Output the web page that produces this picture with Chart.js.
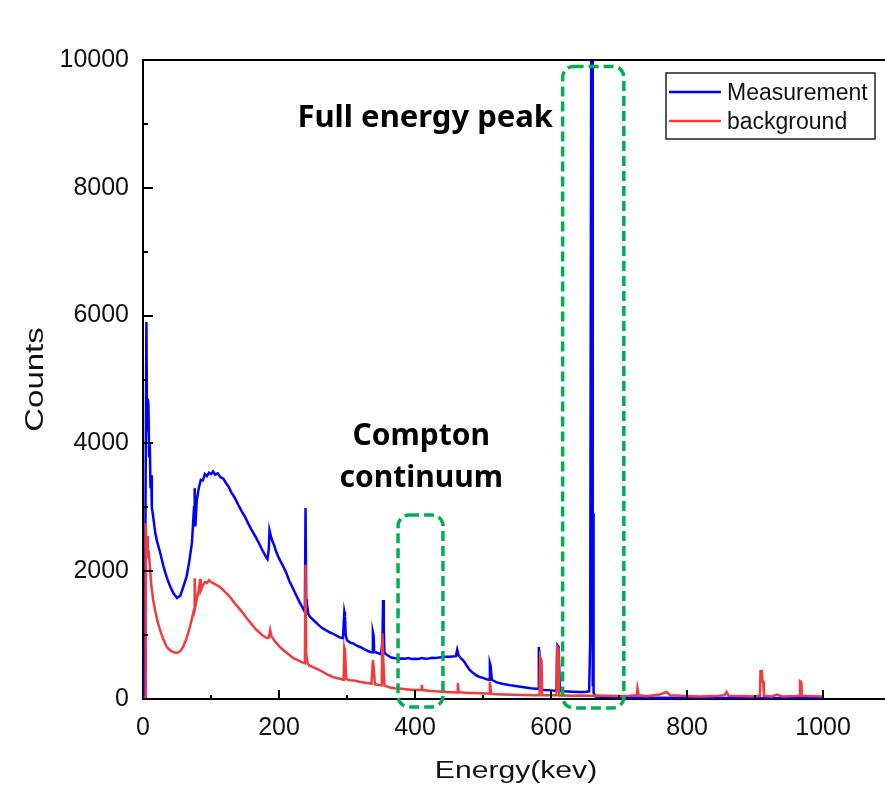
<!DOCTYPE html>
<html>
<head>
<meta charset="utf-8">
<script src="https://cdn.jsdelivr.net/npm/chart.js@4.4.1/dist/chart.umd.min.js"></script>
<style>
  body { margin: 0; background: #fff; }
  #wrap { width: 885px; height: 791px; position: relative; }
</style>
</head>
<body>
<div id="wrap"><canvas id="spectrumChart"></canvas></div>
<script>
// spectrum (energy in keV, counts)
const measEnergy = [
  0, 2, 3, 5, 6, 7, 8, 9, 10, 11,
  12, 13, 15, 18, 21, 25, 30, 35, 40, 45,
  50, 55, 60, 64, 68, 72, 75, 76, 77, 79,
  82, 85, 88, 91, 94, 97, 100, 103, 106, 110,
  114, 118, 122, 126, 130, 135, 140, 145, 150, 155,
  160, 165, 170, 175, 180, 183, 185, 186, 188, 190,
  193, 196, 200, 205, 210, 215, 220, 225, 230, 235,
  238, 239, 240, 241, 243, 246, 250, 255, 260, 265,
  270, 275, 280, 285, 290, 294, 296, 297, 298, 300,
  305, 309, 315, 320, 325, 329, 333, 337, 338, 339,
  340, 345, 350, 352, 353, 354, 355, 360, 365, 370,
  375, 380, 385, 390, 395, 400, 405, 410, 415, 420,
  425, 430, 435, 440, 445, 450, 455, 460, 462, 464,
  468, 472, 476, 480, 485, 490, 495, 500, 505, 509,
  510, 511, 513, 520, 530, 540, 550, 560, 570, 578,
  581, 582, 583, 585, 590, 600, 605, 608, 609, 611,
  613, 620, 630, 640, 650, 656, 657.5, 658.5, 659, 660.5,
  661, 661.5, 662, 662.5, 665, 680, 700, 750, 800, 850,
  900, 950, 1000
];
const measCounts = [
  0, 100, 1500, 5900, 4200, 4700, 4600, 3800, 4000, 3300,
  3500, 3000, 2850, 2600, 2450, 2300, 2080, 1900, 1760, 1650,
  1580, 1620, 1780, 1910, 2150, 2450, 3000, 3300, 2700, 3100,
  3300, 3430, 3420, 3520, 3490, 3540, 3520, 3560, 3510, 3530,
  3470, 3450, 3380, 3320, 3230, 3150, 3040, 2940, 2850, 2740,
  2640, 2550, 2450, 2340, 2240, 2190, 2350, 2640, 2550, 2480,
  2400, 2300, 2200, 2100, 1990, 1850, 1740, 1630, 1520, 1420,
  1360, 2990, 1560, 1500, 1330, 1280, 1240, 1190, 1140, 1100,
  1070, 1040, 1020, 990, 960, 950, 1360, 1300, 1000, 920,
  880, 870, 830, 810, 780, 760, 740, 730, 1050, 1000,
  740, 720, 700, 900, 1550, 1100, 720, 680, 650, 640,
  630, 635, 630, 640, 625, 630, 625, 640, 630, 635,
  645, 640, 650, 655, 660, 660, 665, 670, 770, 680,
  630, 590, 520, 460, 410, 370, 345, 330, 310, 300,
  560, 520, 300, 260, 235, 215, 200, 185, 170, 160,
  160, 815, 700, 150, 140, 135, 130, 140, 845, 820,
  130, 120, 115, 110, 110, 120, 900, 900, 10000, 10000,
  200, 2900, 2900, 100, 40, 30, 25, 20, 15, 15,
  15, 10, 10
];
const bgEnergy = [
  0, 3, 4, 5, 6, 7, 8, 10, 12, 15,
  18, 21, 25, 30, 35, 40, 45, 50, 55, 59,
  63, 66, 69, 72, 75, 76, 77, 79, 82, 84,
  85, 88, 91, 94, 97, 100, 103, 107, 112, 118,
  124, 130, 136, 142, 147, 153, 159, 165, 170, 175,
  182, 185, 187, 189, 195, 201, 207, 214, 221, 228,
  235, 238, 239, 240, 242, 245, 250, 260, 270, 279,
  288, 295, 296, 297, 299, 305, 310, 320, 329, 336,
  338, 339, 341, 347, 351, 352, 353, 355, 363, 370,
  380, 390, 397, 409, 410, 411, 420, 430, 440, 447,
  455, 462, 463, 464, 470, 480, 496, 505, 509, 510,
  512, 520, 530, 544, 560, 575, 583, 584, 586, 587,
  595, 600, 608, 609, 611, 612, 620, 630, 643, 655,
  665, 680, 700, 715, 726, 727, 729, 740, 760, 770,
  775, 790, 800, 820, 840, 855, 858, 861, 880, 900,
  907, 908, 910, 911, 912, 913, 925, 932, 940, 955,
  965, 966, 968, 969, 985, 1000
];
const bgCounts = [
  0, 0, 2750, 2400, 2550, 2200, 2330, 2100, 1800, 1550,
  1380, 1230, 1080, 930, 815, 760, 730, 720, 750, 815,
  920, 1020, 1130, 1260, 1400, 1890, 1450, 1560, 1700, 1880,
  1700, 1780, 1830, 1820, 1860, 1830, 1815, 1790, 1760, 1705,
  1640, 1570, 1480, 1410, 1345, 1260, 1180, 1100, 1050, 1000,
  955, 960, 1080, 980, 890, 815, 760, 700, 640, 605,
  570, 560, 2100, 700, 560, 520, 500, 450, 390, 345,
  320, 300, 800, 750, 310, 295, 290, 265, 250, 240,
  610, 520, 230, 220, 215, 1030, 700, 210, 180, 170,
  160, 150, 140, 140, 220, 140, 130, 120, 115, 110,
  105, 100, 250, 110, 100, 95, 90, 85, 85, 270,
  80, 75, 70, 65, 62, 60, 60, 660, 600, 60,
  60, 60, 60, 815, 780, 55, 55, 50, 55, 50,
  55, 50, 45, 50, 60, 170, 60, 45, 70, 110,
  60, 50, 45, 40, 45, 60, 110, 50, 45, 40,
  50, 440, 440, 270, 270, 50, 40, 70, 40, 45,
  50, 280, 265, 50, 45, 40
];

const xTickValues = [0, 200, 400, 600, 800, 1000];
const yTickValues = [0, 2000, 4000, 6000, 8000, 10000];

const seriesNames = ['Measurement', 'background'];
const seriesColors = ['#0000ff', '#f03c3c'];

// green dashed boxes and labels, in data units
const boxes = [
  { x0: 617, x1: 707, y0: 9900, y1: -140 },
  { x0: 375, x1: 441, y0: 2880, y1: -125 }
];
const notes = [
  { text: 'Full energy peak', x: 415, y: 8950 },
  { text: 'Compton', x: 409, y: 3975 },
  { text: 'continuum', x: 409, y: 3320 }
];

function toPoints(xs, ys) {
  return xs.map((e, i) => ({ x: e, y: ys[i] }));
}

const extras = {
  id: 'extras',
  afterDatasetsDraw(chart) {
    const { ctx, chartArea: a, scales: { x, y } } = chart;
    ctx.save();

    // top frame line
    ctx.strokeStyle = '#000';
    ctx.lineWidth = 2;
    ctx.beginPath();
    ctx.moveTo(a.left, a.top);
    ctx.lineTo(a.right, a.top);
    ctx.stroke();

    // inward ticks, minor halfway between labelled ones
    ctx.lineWidth = 2;
    for (let v = 0; v <= 10000; v += 1000) {
      const py = Math.round(y.getPixelForValue(v));
      const len = v % 2000 === 0 ? 10 : 5;
      ctx.beginPath();
      ctx.moveTo(a.left, py);
      ctx.lineTo(a.left + len, py);
      ctx.stroke();
    }
    for (let v = 100; v <= 1000; v += 100) {
      const px = Math.round(x.getPixelForValue(v));
      const len = v % 200 === 0 ? 9 : 4;
      ctx.beginPath();
      ctx.moveTo(px, a.bottom);
      ctx.lineTo(px, a.bottom - len);
      ctx.stroke();
    }

    // dashed boxes
    ctx.strokeStyle = '#00b050';
    ctx.lineWidth = 3.5;
    ctx.setLineDash([10, 5]);
    boxes.forEach(b => {
      const l = x.getPixelForValue(b.x0), r = x.getPixelForValue(b.x1);
      const t = y.getPixelForValue(b.y0), btm = y.getPixelForValue(b.y1);
      ctx.beginPath();
      ctx.roundRect(l, t, r - l, btm - t, 11);
      ctx.stroke();
    });
    ctx.setLineDash([]);

    // annotations
    ctx.fillStyle = '#000';
    ctx.textAlign = 'center';
    ctx.textBaseline = 'alphabetic';
    notes.forEach((n, i) => {
      ctx.font = 'bold ' + (i === 0 ? 31 : 30) + 'px "Noto Sans"';
      ctx.fillText(n.text, x.getPixelForValue(n.x), y.getPixelForValue(n.y));
    });

    // legend box
    const lx = a.right - 219, ly = a.top + 13;
    ctx.fillStyle = '#fff';
    ctx.fillRect(lx, ly, 209, 66);
    ctx.strokeStyle = '#222';
    ctx.lineWidth = 1.5;
    ctx.strokeRect(lx, ly, 209, 66);
    ctx.font = '23px "Liberation Sans"';
    ctx.textAlign = 'left';
    seriesNames.forEach((name, i) => {
      const yy = ly + 19 + i * 29;
      ctx.strokeStyle = seriesColors[i];
      ctx.lineWidth = 2.5;
      ctx.beginPath();
      ctx.moveTo(lx + 3, yy);
      ctx.lineTo(lx + 55, yy);
      ctx.stroke();
      ctx.fillStyle = '#111';
      ctx.fillText(name, lx + 61, yy + 8);
    });

    // axis titles (stretched along the text like the original)
    ctx.fillStyle = '#111';
    ctx.textAlign = 'center';
    ctx.save();
    ctx.font = '23px "Liberation Sans"';
    ctx.translate((a.left + a.right) / 2 + 2, 778);
    ctx.scale(1.31, 1);
    ctx.fillText('Energy(kev)', 0, 0);
    ctx.restore();
    ctx.save();
    ctx.font = '25px "Liberation Sans"';
    ctx.translate(43, (a.top + a.bottom) / 2);
    ctx.rotate(-Math.PI / 2);
    ctx.scale(1.32, 1);
    ctx.fillText('Counts', 0, 0);
    ctx.restore();

    ctx.restore();
  }
};

const ctx = document.getElementById('spectrumChart').getContext('2d');
const spectrumChart = new Chart(ctx, {
  type: 'line',
  data: {
    datasets: [
      {
        label: seriesNames[0],
        data: toPoints(measEnergy, measCounts),
        borderColor: seriesColors[0],
        borderWidth: 2.5,
        pointRadius: 0,
        order: 2
      },
      {
        label: seriesNames[1],
        data: toPoints(bgEnergy, bgCounts),
        borderColor: seriesColors[1],
        borderWidth: 2.5,
        pointRadius: 0,
        order: 1
      }
    ]
  },
  options: {
    responsive: true,
    maintainAspectRatio: false,
    animation: false,
    layout: { padding: { top: 60, left: 0, right: 0, bottom: 0 } },
    plugins: {
      legend: { display: false },
      tooltip: { enabled: false }
    },
    scales: {
      x: {
        type: 'linear',
        min: 0,
        max: 1091,
        afterBuildTicks: s => { s.ticks = xTickValues.map(v => ({ value: v })); },
        afterFit: s => { s.height = 92; },
        grid: { display: false, drawTicks: false },
        border: { display: true, color: '#000', width: 2 },
        ticks: {
          font: { family: '"Liberation Sans"', size: 25 },
          color: '#111',
          padding: 14,
          maxRotation: 0,
          callback: v => String(v)
        }
      },
      y: {
        min: 0,
        max: 10000,
        afterBuildTicks: s => { s.ticks = yTickValues.map(v => ({ value: v })); },
        afterFit: s => { s.width = 143; },
        grid: { display: false, drawTicks: false },
        border: { display: true, color: '#000', width: 2 },
        ticks: {
          font: { family: '"Liberation Sans"', size: 25 },
          color: '#111',
          padding: 14,
          callback: v => String(v)
        }
      }
    }
  },
  plugins: [extras]
});
</script>
</body>
</html>
